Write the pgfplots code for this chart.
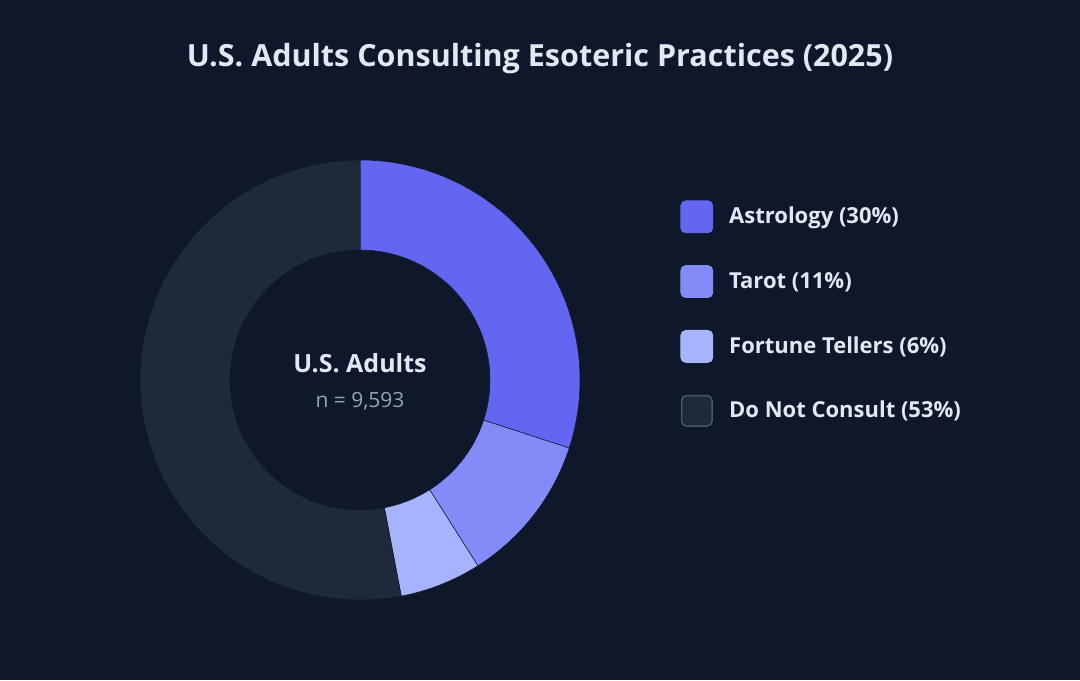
\documentclass[border=0pt]{standalone}
\usepackage{pgfplots}
\pgfplotsset{compat=1.18}
\usepackage{pgfplotstable}
\usepgfplotslibrary{fillbetween}
\usepackage{fontspec}
\setmainfont{Open Sans}
\definecolor{bg}{HTML}{0F172A}
\definecolor{cA}{HTML}{6366F1}
\definecolor{cB}{HTML}{818CF8}
\definecolor{cC}{HTML}{A5B4FC}
\definecolor{cD}{HTML}{1E293B}
\definecolor{cDb}{HTML}{475569}
\definecolor{titlec}{HTML}{E2E8F0}
\definecolor{subc}{HTML}{94A3B8}

\pgfplotstableread{
label value
Astrology 30
Tarot 11
Fortune 6
DoNot 53
}\shares
\pgfplotstablegetelem{0}{value}\of\shares \let\vA\pgfplotsretval
\pgfplotstablegetelem{1}{value}\of\shares \let\vB\pgfplotsretval
\pgfplotstablegetelem{2}{value}\of\shares \let\vC\pgfplotsretval
\pgfplotstablegetelem{3}{value}\of\shares \let\vD\pgfplotsretval
\pgfmathsetmacro\aA{90-3.6*\vA}
\pgfmathsetmacro\aB{\aA-3.6*\vB}
\pgfmathsetmacro\aC{\aB-3.6*\vC}
\pgfmathsetmacro\aD{\aC-3.6*\vD}

\begin{document}
\begin{tikzpicture}
\fill[bg] (0,0) rectangle (540pt,340pt);
\begin{axis}[
  at={(0,0)}, anchor=south west,
  width=540pt, height=340pt, scale only axis,
  xmin=0, xmax=1080, ymin=0, ymax=680,
  hide axis, clip=false,
  legend cell align=left,
  legend style={at={(axis cs:680,480)}, anchor=north west,
    draw=none, fill=none, inner sep=0pt, row sep=16pt,
    font=\bfseries\fontsize{11}{13}\selectfont, text=titlec,
    nodes={inner sep=0pt},
    /tikz/every odd column/.append style={column sep=8pt}},
]
% slice A
\addplot[draw=none, name path=oA, domain=\aA:90, samples=80, forget plot] ({360+220*cos(x)},{300+220*sin(x)});
\addplot[draw=none, name path=iA, domain=\aA:90, samples=80, forget plot] ({360+130*cos(x)},{300+130*sin(x)});
\addplot[fill=cA, draw=bg, line width=0.25pt, forget plot] fill between[of=oA and iA, on layer=main];
% slice B
\addplot[draw=none, name path=oB, domain=\aB:\aA, samples=40, forget plot] ({360+220*cos(x)},{300+220*sin(x)});
\addplot[draw=none, name path=iB, domain=\aB:\aA, samples=40, forget plot] ({360+130*cos(x)},{300+130*sin(x)});
\addplot[fill=cB, draw=bg, line width=0.25pt, forget plot] fill between[of=oB and iB, on layer=main];
% slice C
\addplot[draw=none, name path=oC, domain=\aC:\aB, samples=30, forget plot] ({360+220*cos(x)},{300+220*sin(x)});
\addplot[draw=none, name path=iC, domain=\aC:\aB, samples=30, forget plot] ({360+130*cos(x)},{300+130*sin(x)});
\addplot[fill=cC, draw=bg, line width=0.25pt, forget plot] fill between[of=oC and iC, on layer=main];
% slice D
\addplot[draw=none, name path=oD, domain=\aD:\aC, samples=140, forget plot] ({360+220*cos(x)},{300+220*sin(x)});
\addplot[draw=none, name path=iD, domain=\aD:\aC, samples=140, forget plot] ({360+130*cos(x)},{300+130*sin(x)});
\addplot[fill=cD, draw=bg, line width=0.25pt, forget plot] fill between[of=oD and iD, on layer=main];

\addlegendimage{legend image code/.code={\fill[cA, rounded corners=2.5pt] (0pt,-8pt) rectangle (16pt,8pt);}}
\addlegendentry{Astrology (\vA\%)}
\addlegendimage{legend image code/.code={\fill[cB, rounded corners=2.5pt] (0pt,-8pt) rectangle (16pt,8pt);}}
\addlegendentry{Tarot (\vB\%)}
\addlegendimage{legend image code/.code={\fill[cC, rounded corners=2.5pt] (0pt,-8pt) rectangle (16pt,8pt);}}
\addlegendentry{Fortune Tellers (\vC\%)}
\addlegendimage{legend image code/.code={\filldraw[fill=cD, draw=cDb, line width=0.75pt, rounded corners=2.5pt] (0.375pt,-7.625pt) rectangle (15.625pt,7.625pt);}}
\addlegendentry{Do Not Consult (\vD\%)}

\node[text=titlec, font=\bfseries\fontsize{15.25}{18}\selectfont] at (axis cs:540,621) {U.S. Adults Consulting Esoteric Practices (2025)};
\node[text=titlec, font=\bfseries\fontsize{12.5}{15}\selectfont] at (axis cs:360,317) {U.S. Adults};
\node[text=subc, font=\fontsize{10.5}{12}\selectfont] at (axis cs:360,278.5) {n = 9,593};
\end{axis}
\end{tikzpicture}
\end{document}
